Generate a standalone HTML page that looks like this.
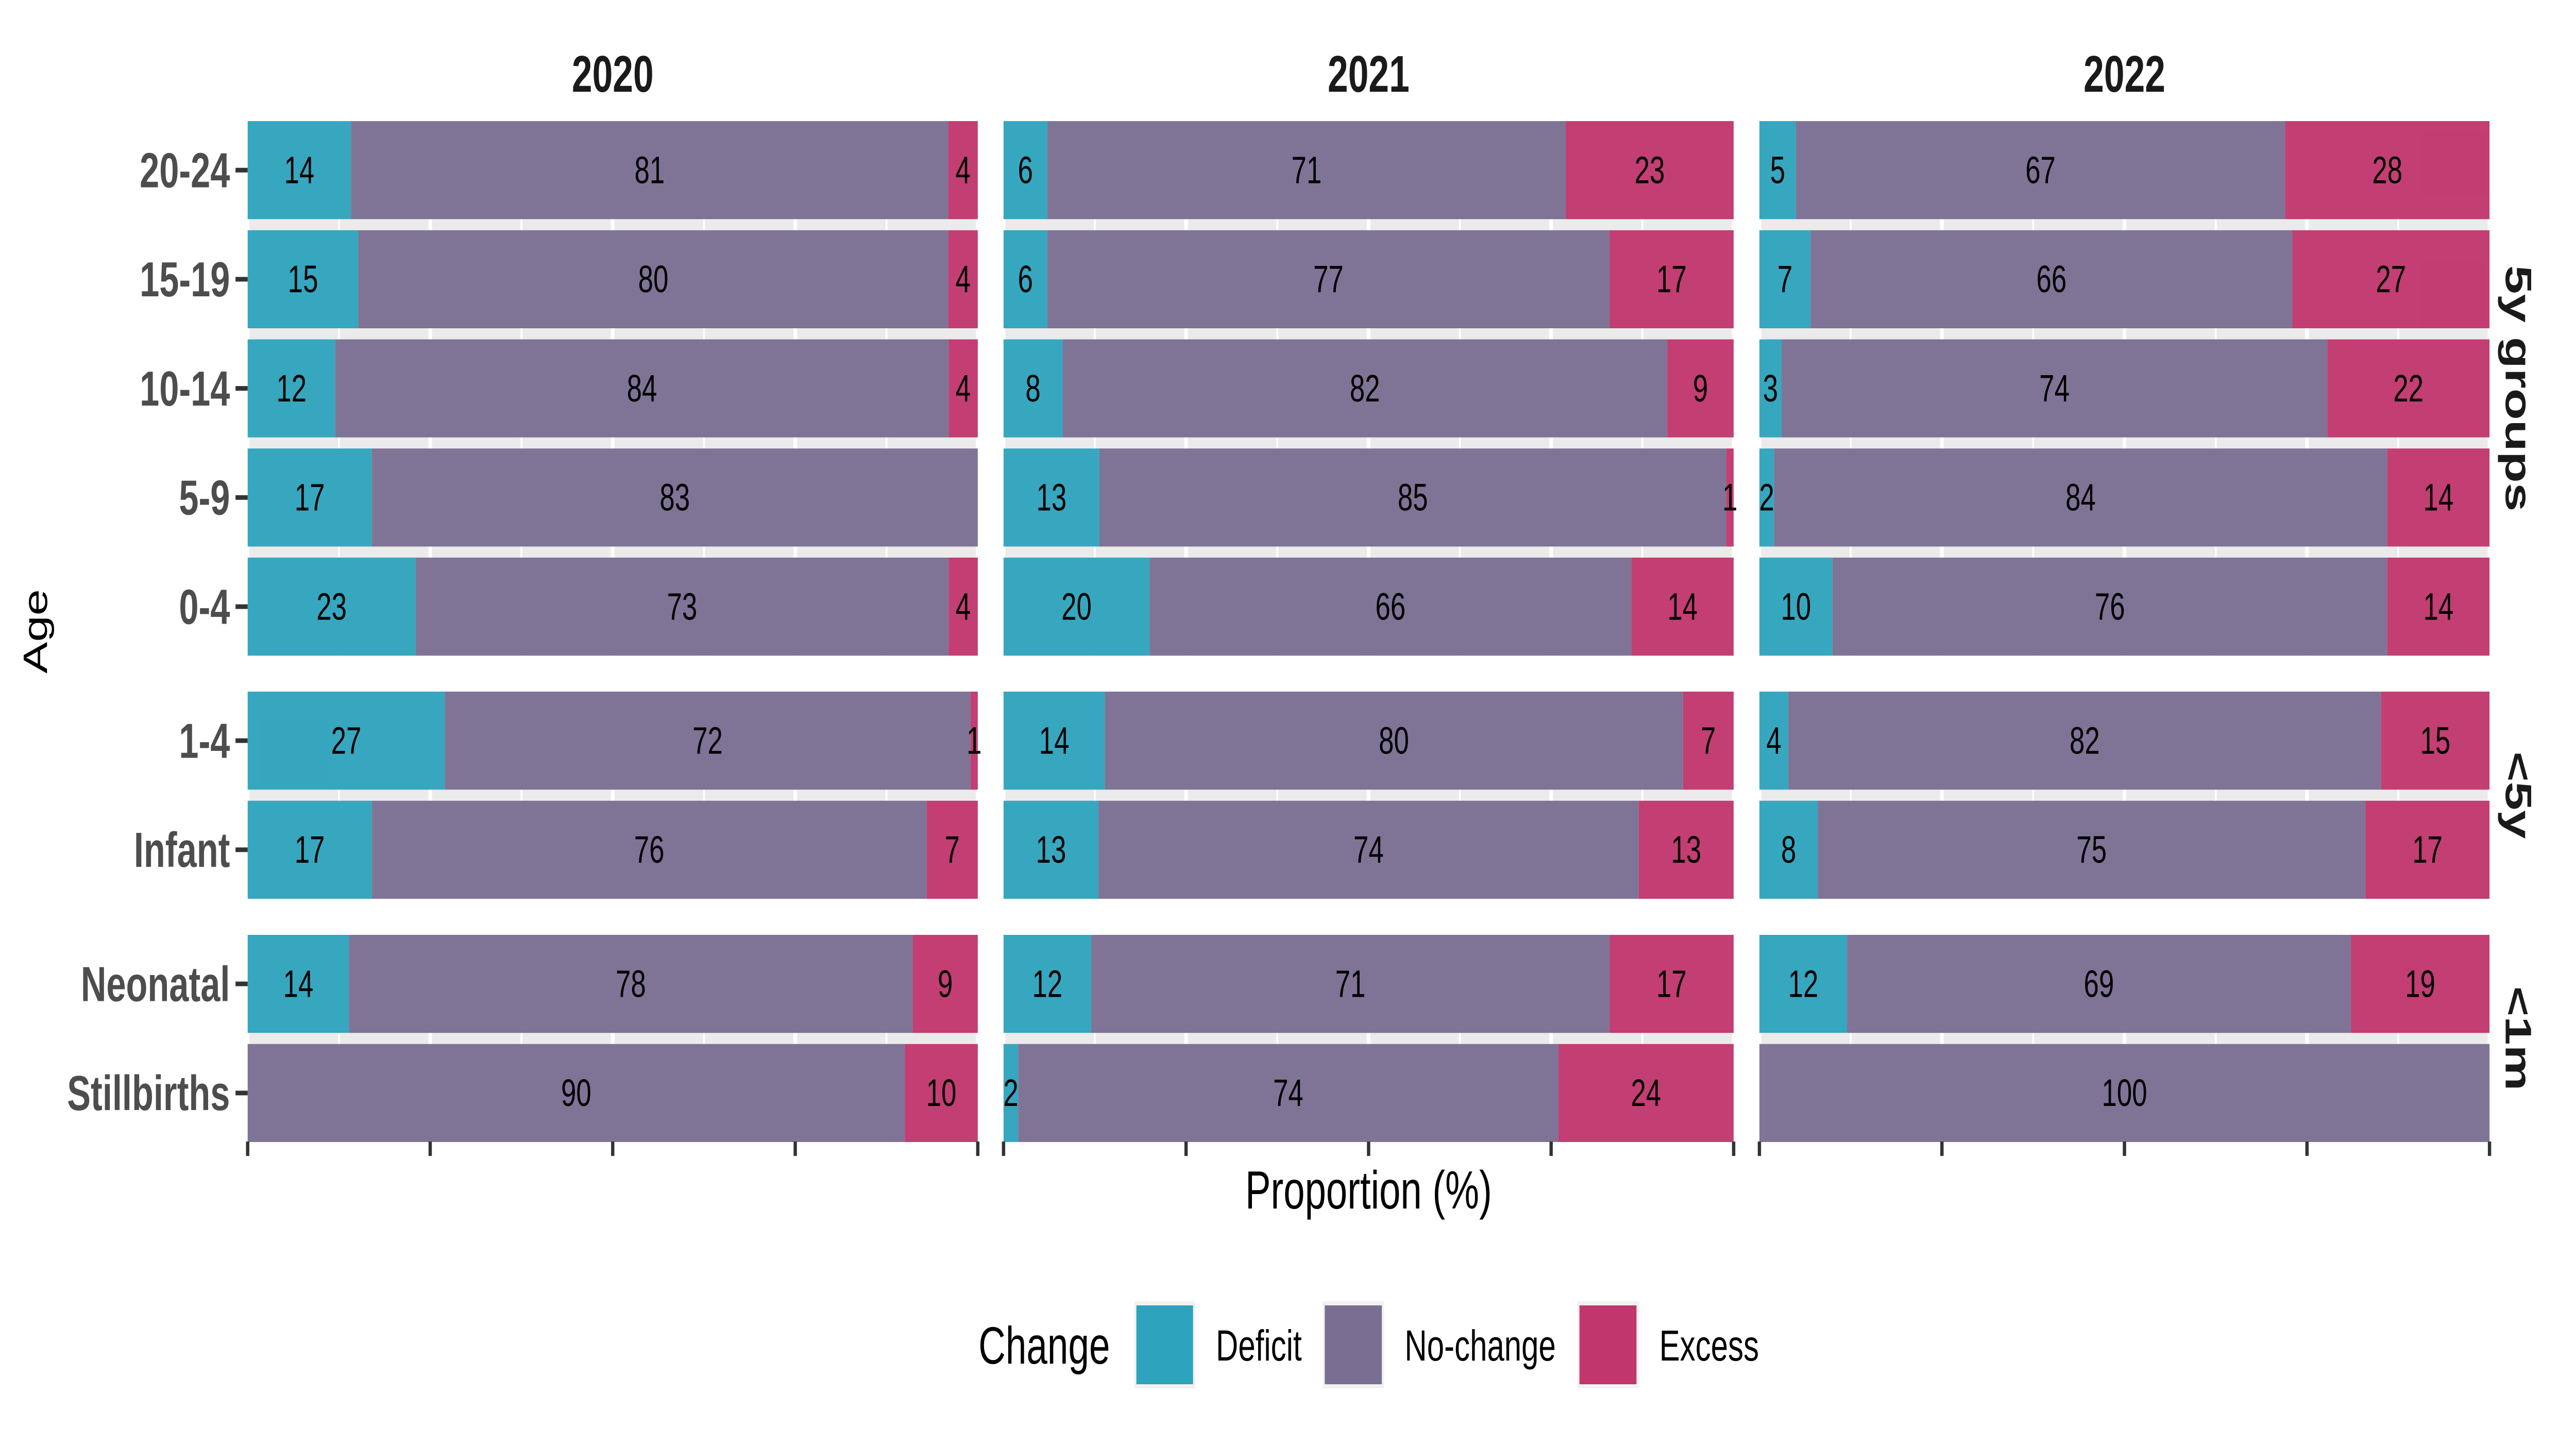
<!DOCTYPE html>
<html><head><meta charset="utf-8"><style>
html,body{margin:0;padding:0;background:#fff;overflow:hidden;width:100%;height:100%}
svg{display:block;width:100vw;height:100vh;font-family:"Liberation Sans",Arial,sans-serif}
</style></head><body>
<svg id="chart" viewBox="0 0 7000 2800" preserveAspectRatio="none" xmlns="http://www.w3.org/2000/svg">
<rect width="7000" height="2800" fill="#fff"/>
<g id="plot"></g>
<text x="0" y="0" transform="translate(128,1225) rotate(-90)" font-size="92" text-anchor="middle" fill="#000">Age</text>
<text x="3719" y="2345" font-size="104" text-anchor="middle" fill="#000">Proportion (%)</text>
<g>
<text x="2659" y="2646" font-size="102" fill="#000">Change</text>
<rect x="3082" y="2525" width="166" height="169" fill="#F2F2F2"/>
<rect x="3088" y="2533" width="154" height="153" fill="#2EA3BC"/>
<text x="3304" y="2640" font-size="84" fill="#000">Deficit</text>
<rect x="3594" y="2525" width="167" height="169" fill="#F2F2F2"/>
<rect x="3600" y="2533" width="155" height="153" fill="#7A6E92"/>
<text x="3817" y="2640" font-size="84" fill="#000">No-change</text>
<rect x="4286" y="2525" width="169" height="169" fill="#F2F2F2"/>
<rect x="4292" y="2533" width="155" height="153" fill="#C1366D"/>
<text x="4509" y="2640" font-size="84" fill="#000">Excess</text>
</g>
</svg>
<script>
const years = ["2020","2021","2022"];
const groups = ["5y groups","<5y","<1m"];
const groupRows = [["20-24","15-19","10-14","5-9","0-4"],["1-4","Infant"],["Neonatal","Stillbirths"]];
const ages = ["20-24","15-19","10-14","5-9","0-4","1-4","Infant","Neonatal","Stillbirths"];
const deficit2020 = [14,15,12,17,23,27,17,14,0];
const nochange2020 = [81,80,84,83,73,72,76,78,90];
const excess2020 = [4,4,4,0,4,1,7,9,10];
const deficit2021 = [6,6,8,13,20,14,13,12,2];
const nochange2021 = [71,77,82,85,66,80,74,71,74];
const excess2021 = [23,17,9,1,14,7,13,17,24];
const deficit2022 = [5,7,3,2,10,4,8,12,0];
const nochange2022 = [67,66,74,84,76,82,75,69,100];
const excess2022 = [28,27,22,14,14,15,17,19,0];
const xTicks = [0,25,50,75,100];

const deficitByYear=[deficit2020,deficit2021,deficit2022];
const nochangeByYear=[nochange2020,nochange2021,nochange2022];
const excessByYear=[excess2020,excess2021,excess2022];
const colors=["#2EA3BC","#7A6E92","#C1366D"];
const segNames=["deficit","no-change","excess"];
const NS="http://www.w3.org/2000/svg";
const plot=document.getElementById('plot');
function mk(tag,attrs,parent){const e=document.createElementNS(NS,tag);for(const k in attrs)e.setAttribute(k,attrs[k]);(parent||plot).appendChild(e);return e;}
const panelX0=673,panelW=1984,panelGap=70;
const pitch=211.75,gap=21.5,barH=pitch-gap;
const groupTop=[235,1342,1814];
function xScale(p,v){return panelX0+p*(panelW+panelGap)+v/100*panelW;}

for(let p=0;p<3;p++){
  const st=mk('text',{x:xScale(p,50),y:178,'font-size':100,'font-weight':'bold','text-anchor':'middle',fill:'#1A1A1A'});
  
  
  st.textContent=years[p];
}
for(let g=0;g<3;g++){
  const rows=groupRows[g];
  const top=groupTop[g];
  const h=rows.length*pitch-gap;
  for(let p=0;p<3;p++){
    const bg=mk('rect',{x:xScale(p,0),y:top,width:panelW,height:h,fill:'#EBEBEB'});
    
    
    for(let t=0;t<=8;t++){
      const x=xScale(p,t*12.5);
      mk('line',{x1:x,x2:x,y1:top,y2:top+h,stroke:'#fff','stroke-width':t%2?5:10});
    }
  }
  const st=mk('text',{x:0,y:0,transform:`translate(6843,${top+h/2}) rotate(90)`,'font-size':100,'font-weight':'bold','text-anchor':'middle','dominant-baseline':'central',fill:'#1A1A1A'});
  
  
  st.textContent=groups[g];
  for(let r=0;r<rows.length;r++){
    const i=ages.indexOf(rows[r]);
    const y=top+r*pitch;
    const lab=mk('text',{x:625,y:y+barH/2,'font-size':96,'font-weight':'bold','text-anchor':'end','dominant-baseline':'central',fill:'#4D4D4D'});
    
    
    lab.textContent=ages[i];
    mk('line',{x1:640,x2:673,y1:y+barH/2,y2:y+barH/2,stroke:'#333','stroke-width':9});
    for(let p=0;p<3;p++){
      const vals=[deficitByYear[p][i],nochangeByYear[p][i],excessByYear[p][i]];
      const sum=vals[0]+vals[1]+vals[2];
      let acc=0;
      for(let s=0;s<3;s++){
        if(vals[s]<=0)continue;
        const a=acc/sum*100, b=(acc+vals[s])/sum*100;
        const rc=mk('rect',{x:xScale(p,a),y:y,width:xScale(p,b)-xScale(p,a),height:barH,fill:colors[s],'fill-opacity':0.96});
        
        
        const tx=mk('text',{x:xScale(p,(a+b)/2),y:y+barH/2,'font-size':74,'text-anchor':'middle','dominant-baseline':'central',fill:'#000'});
        
        
        tx.textContent=vals[s];
        acc+=vals[s];
      }
    }
  }
}
for(let p=0;p<3;p++){
  for(const t of xTicks){
    const x=xScale(p,t);
    const tk=mk('line',{x1:x,x2:x,y1:2215,y2:2243,stroke:'#333','stroke-width':9});
    
    
  }
}
</script>
</body></html>
